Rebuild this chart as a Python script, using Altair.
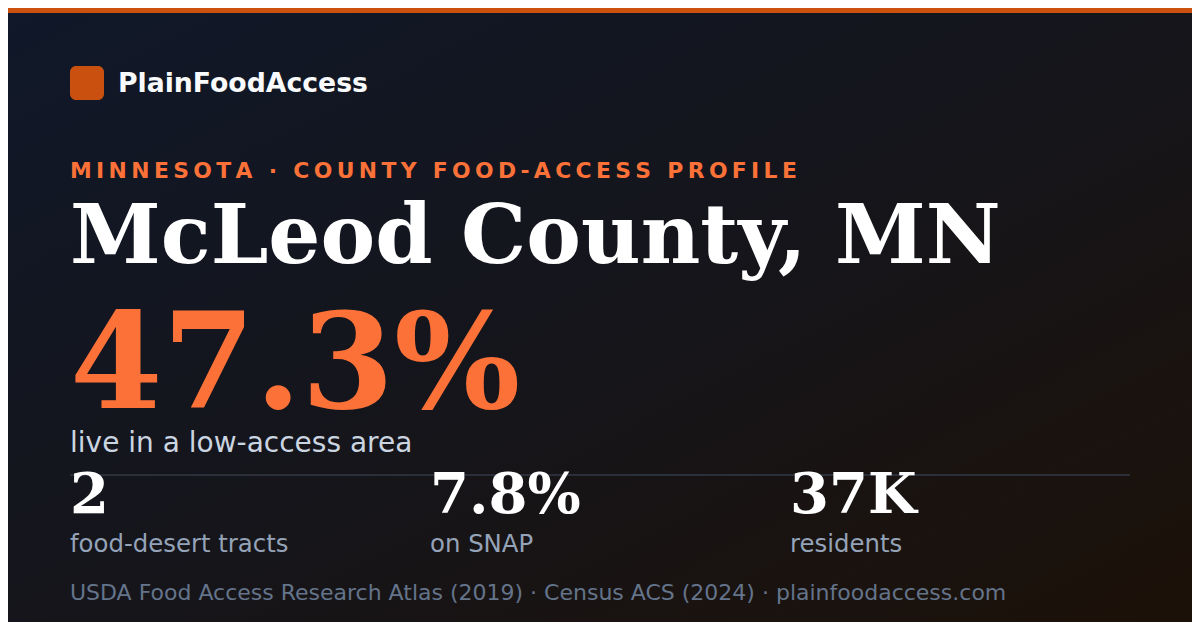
import altair as alt
import pandas as pd

# ---- content ----
brand = ["PlainFoodAccess"]
eyebrow = ["MINNESOTA · COUNTY FOOD-ACCESS PROFILE"]
county = ["McLeod County, MN"]
headline_value = [47.3]
headline_label = ["live in a low-access area"]
stat_values = ["2", "7.8%", "37K"]
stat_labels = ["food-desert tracts", "on SNAP", "residents"]
source_note = ["USDA Food Access Research Atlas (2019) · Census ACS (2024) · plainfoodaccess.com"]

W, H = 1184, 614
OFF = 8  # page margin offset

def spaced(s):
    return "\u2009".join(list(s))

one = pd.DataFrame({"k": [0]})

bg = alt.Chart(one).mark_rect(
    fill=alt.Gradient(
        gradient="linear",
        stops=[
            alt.GradientStop(color="#101829", offset=0),
            alt.GradientStop(color="#15151b", offset=0.5),
            alt.GradientStop(color="#1c1108", offset=1),
        ],
        x1=0, y1=0, x2=1, y2=1,
    )
).encode(x=alt.value(0), x2=alt.value(W), y=alt.value(0), y2=alt.value(H))

topbar = alt.Chart(one).mark_rect(color="#cc500e").encode(
    x=alt.value(0), x2=alt.value(W), y=alt.value(0), y2=alt.value(5)
)

logo = alt.Chart(one).mark_rect(color="#c9500e", cornerRadius=6).encode(
    x=alt.value(70 - OFF), x2=alt.value(104 - OFF), y=alt.value(66 - OFF), y2=alt.value(100 - OFF)
)

divider = alt.Chart(one).mark_rule(color="#2a2f3a", strokeWidth=2).encode(
    x=alt.value(70 - OFF), x2=alt.value(1130 - OFF), y=alt.value(475 - OFF)
)

def text_layer(values, x, y, size, color, font, weight="normal"):
    df = pd.DataFrame({"t": values})
    return alt.Chart(df).mark_text(
        align="left", baseline="alphabetic", fontSize=size, color=color,
        font=font, fontWeight=weight,
    ).encode(text="t:N", x=alt.value(x - OFF), y=alt.value(y - OFF))

t_brand = text_layer(brand, 118, 92, 26.7, "#f8fafc", "DejaVu Sans", "bold")
t_eyebrow = text_layer([spaced(e) for e in eyebrow], 70, 178, 21.85, "#fb7138", "DejaVu Sans", "bold")
t_county = text_layer(county, 70, 263, 82, "#ffffff", "DejaVu Serif", "bold")
t_head = text_layer([f"{v:.1f}%" for v in headline_value], 70, 408, 133, "#fb7138", "DejaVu Serif", "bold")
t_headlab = text_layer(headline_label, 70, 452, 28, "#cbd5e1", "DejaVu Sans")
t_source = text_layer(source_note, 70, 600, 22, "#64748b", "DejaVu Sans")

stats = pd.DataFrame({"idx": list(range(len(stat_values))), "v": stat_values, "l": stat_labels})
xscale = alt.Scale(domain=[0, 2], range=[70 - OFF, 790 - OFF], nice=False, zero=False)
t_statv = alt.Chart(stats).mark_text(
    align="left", baseline="alphabetic", fontSize=56, color="#ffffff",
    font="DejaVu Serif", fontWeight="bold",
).encode(x=alt.X("idx:Q", scale=xscale, axis=None), y=alt.value(513 - OFF), text="v:N")
t_statl = alt.Chart(stats).mark_text(
    align="left", baseline="alphabetic", fontSize=24.4, color="#94a3b8",
    font="DejaVu Sans",
).encode(x=alt.X("idx:Q", scale=xscale, axis=None), y=alt.value(552 - OFF), text="l:N")

chart = alt.layer(
    bg, topbar, logo, divider, t_brand, t_eyebrow, t_county, t_head, t_headlab,
    t_statv, t_statl, t_source
).properties(
    width=W, height=H, padding=0, autosize=alt.AutoSizeParams(type="none"),
    background="#111318",
).configure_view(strokeWidth=0)

chart.save("out.html", embed_options={"renderer": "svg", "actions": False})
